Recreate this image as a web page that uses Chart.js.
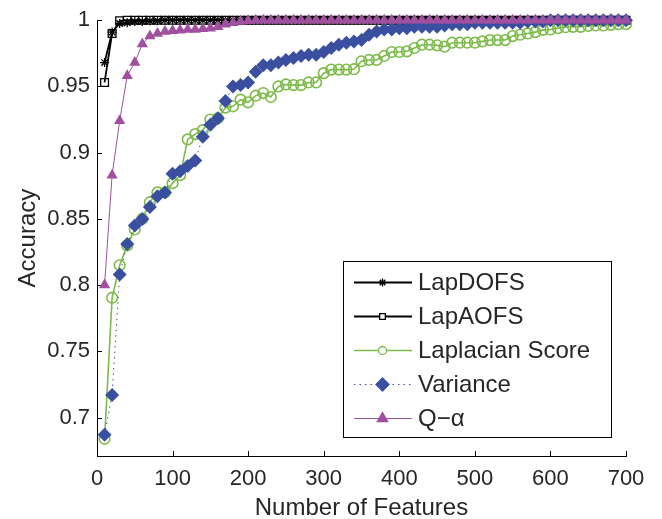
<!DOCTYPE html>
<html lang="en">
<head>
  <meta charset="UTF-8" />
  <title>Accuracy vs Number of Features</title>
  <script src="https://cdn.jsdelivr.net/npm/chart.js"></script>
  <style>
    body {
      margin: 0;
      background: #ffffff;
    }
    .chart-box {
      width: 662px;
      height: 519px;
    }
  </style>
</head>
<body>

  <div class="chart-box">
    <canvas id="accChart"></canvas>
  </div>

  <script>
    // number of selected features (x axis)
    const features = [10, 20, 30, 40, 50, 60, 70, 80, 90, 100,
      110, 120, 130, 140, 150, 160, 170, 180, 190, 200,
      210, 220, 230, 240, 250, 260, 270, 280, 290, 300,
      310, 320, 330, 340, 350, 360, 370, 380, 390, 400,
      410, 420, 430, 440, 450, 460, 470, 480, 490, 500,
      510, 520, 530, 540, 550, 560, 570, 580, 590, 600,
      610, 620, 630, 640, 650, 660, 670, 680, 690, 700];

    const lapDOFS = [0.968, 0.991, 0.9975, 0.998, 0.999, 0.999, 0.9995, 0.9995, 1, 1,
      1, 1, 1, 1, 1, 1, 1, 1, 1, 1,
      1, 1, 1, 1, 1, 1, 1, 1, 1, 1,
      1, 1, 1, 1, 1, 1, 1, 1, 1, 1,
      1, 1, 1, 1, 1, 1, 1, 1, 1, 1,
      1, 1, 1, 1, 1, 1, 1, 1, 1, 1,
      1, 1, 1, 1, 1, 1, 1, 1, 1, 1];

    const lapAOFS = [0.953, 0.990, 0.9995, 1, 1, 1, 1, 1, 1, 1,
      1, 1, 1, 1, 1, 1, 1, 1, 1, 1,
      1, 1, 1, 1, 1, 1, 1, 1, 1, 1,
      1, 1, 1, 1, 1, 1, 1, 1, 1, 1,
      1, 1, 1, 1, 1, 1, 1, 1, 1, 1,
      1, 1, 1, 1, 1, 1, 1, 1, 1, 1,
      1, 1, 1, 1, 1, 1, 1, 1, 1, 1];

    const laplacianScore = [0.684, 0.7905, 0.815, 0.830, 0.842, 0.850, 0.8626, 0.870, 0.870, 0.877,
      0.883, 0.910, 0.914, 0.917, 0.925, 0.926, 0.934, 0.935, 0.940, 0.938,
      0.943, 0.945, 0.942, 0.950, 0.9515, 0.951, 0.951, 0.953, 0.953, 0.960,
      0.9627, 0.9627, 0.9627, 0.963, 0.969, 0.970, 0.970, 0.973, 0.976, 0.976,
      0.9765, 0.979, 0.9815, 0.9815, 0.981, 0.980, 0.983, 0.983, 0.983, 0.983,
      0.984, 0.985, 0.985, 0.985, 0.988, 0.989, 0.990, 0.991, 0.9927, 0.993,
      0.994, 0.9947, 0.995, 0.995, 0.9957, 0.996, 0.996, 0.9965, 0.997, 0.997];

    const variance = [0.687, 0.717, 0.808, 0.831, 0.845, 0.850, 0.859, 0.867, 0.870, 0.884,
      0.886, 0.890, 0.894, 0.912, 0.921, 0.926, 0.939, 0.950, 0.951, 0.953,
      0.961, 0.966, 0.966, 0.968, 0.970, 0.9715, 0.973, 0.974, 0.974, 0.976,
      0.979, 0.9815, 0.983, 0.984, 0.985, 0.989, 0.9915, 0.993, 0.993, 0.994,
      0.994, 0.995, 0.995, 0.995, 0.995, 0.996, 0.997, 0.997, 0.997, 0.998,
      0.998, 0.998, 0.998, 0.998, 0.998, 0.998, 0.999, 0.999, 0.999, 1,
      1, 1, 1, 1, 1, 1, 1, 1, 1, 1];

    const qAlpha = [0.800, 0.883, 0.924, 0.958, 0.968, 0.982, 0.988, 0.990, 0.9915, 0.992,
      0.9925, 0.993, 0.993, 0.9935, 0.994, 0.995, 0.997, 0.998, 0.999, 0.9995,
      1, 1, 1, 1, 1, 1, 1, 1, 1, 1,
      1, 1, 1, 1, 1, 1, 1, 1, 1, 1,
      1, 1, 1, 1, 1, 1, 1, 1, 1, 1,
      1, 1, 1, 1, 1, 1, 1, 1, 1, 1,
      1, 1, 1, 1, 1, 1, 1, 1, 1, 1];

    const xTicks = [0, 100, 200, 300, 400, 500, 600, 700];
    const yTicks = [0.7, 0.75, 0.8, 0.85, 0.9, 0.95, 1];

    const FONT = "'Liberation Sans', Arial, Helvetica, sans-serif";
    const TEXT = '#262626';

    function pts(ys) {
      return features.map((x, i) => ({ x: x, y: ys[i] }));
    }

    // legend marker info (smaller than plot markers, like MATLAB)
    const legendRows = [
      { label: 'LapDOFS', color: '#000000', width: 1.8, dash: [], style: 'star', r: 4, fill: '#000000' },
      { label: 'LapAOFS', color: '#000000', width: 1.8, dash: [], style: 'rect', r: 4, fill: '#ffffff' },
      { label: 'Laplacian Score', color: '#7dbb4a', width: 1.6, dash: [], style: 'circle', r: 4, fill: '#ffffff' },
      { label: 'Variance', color: '#3a4fa0', width: 1, dash: [1.5, 4], style: 'rectRot', r: 6.5, fill: '#3a4fa0' },
      { label: 'Q\u2212\u03b1', color: '#a0509f', width: 1, dash: [], style: 'triangle', r: 6, fill: '#a0509f' }
    ];

    // ticks pointing into the plot, like MATLAB
    const inwardTicks = {
      id: 'inwardTicks',
      beforeDatasetsDraw(chart) {
        const ctx = chart.ctx;
        const xs = chart.scales.x, ys = chart.scales.y;
        const a = chart.chartArea;
        ctx.save();
        ctx.strokeStyle = '#000';
        ctx.lineWidth = 1;
        ctx.beginPath();
        xTicks.forEach(v => {
          const px = Math.round(xs.getPixelForValue(v)) + 0.5;
          ctx.moveTo(px, a.bottom);
          ctx.lineTo(px, a.bottom - 5);
        });
        yTicks.forEach(v => {
          const py = Math.round(ys.getPixelForValue(v)) + 0.5;
          ctx.moveTo(a.left, py);
          ctx.lineTo(a.left + 5, py);
        });
        ctx.stroke();
        ctx.restore();
      }
    };

    const boxLegend = {
      id: 'boxLegend',
      afterDraw(chart) {
        const ctx = chart.ctx;
        const left = 343.5, top = 261.5, w = 268, h = 176;
        ctx.save();
        ctx.fillStyle = '#fff';
        ctx.fillRect(left, top, w, h);
        ctx.strokeStyle = '#000';
        ctx.lineWidth = 1;
        ctx.strokeRect(left, top, w, h);
        legendRows.forEach((row, i) => {
          const y = 282.5 + i * 34;
          ctx.strokeStyle = row.color;
          ctx.lineWidth = row.width;
          ctx.setLineDash(row.dash);
          ctx.beginPath();
          ctx.moveTo(354, y);
          ctx.lineTo(412, y);
          ctx.stroke();
          ctx.setLineDash([]);
          ctx.fillStyle = row.fill;
          ctx.strokeStyle = row.color;
          ctx.lineWidth = 1.3;
          Chart.helpers.drawPoint(ctx, { pointStyle: row.style, radius: row.r, rotation: 0, borderWidth: 1.3 }, 382.5, y);
          ctx.fillStyle = TEXT;
          ctx.font = '24px ' + FONT;
          ctx.textBaseline = 'middle';
          ctx.textAlign = 'left';
          ctx.fillText(row.label, 418, y + 1);
        });
        ctx.restore();
      }
    };

    const ctx = document.getElementById('accChart').getContext('2d');
    new Chart(ctx, {
      type: 'line',
      data: {
        datasets: [
          {
            label: 'LapDOFS',
            data: pts(lapDOFS),
            borderColor: '#000000',
            borderWidth: 1.8,
            pointStyle: 'star',
            pointRadius: 4.5,
            pointBorderColor: '#000000',
            pointBorderWidth: 1.3,
            order: 4
          },
          {
            label: 'LapAOFS',
            data: pts(lapAOFS),
            borderColor: '#000000',
            borderWidth: 1.8,
            pointStyle: 'rect',
            pointRadius: 5.5,
            pointBackgroundColor: 'rgba(255,255,255,0)',
            pointBorderColor: '#000000',
            pointBorderWidth: 1.3,
            order: 3
          },
          {
            label: 'Laplacian Score',
            data: pts(laplacianScore),
            borderColor: '#7dbb4a',
            borderWidth: 1.6,
            pointStyle: 'circle',
            pointRadius: 5.3,
            pointBackgroundColor: 'rgba(255,255,255,0)',
            pointBorderColor: '#7dbb4a',
            pointBorderWidth: 1.6,
            order: 2
          },
          {
            label: 'Variance',
            data: pts(variance),
            borderColor: '#3a4fa0',
            borderWidth: 1,
            borderDash: [1.5, 4],
            pointStyle: 'rectRot',
            pointRadius: 7,
            pointBackgroundColor: '#3a4fa0',
            pointBorderColor: '#3a4fa0',
            pointBorderWidth: 0,
            order: 1
          },
          {
            label: 'Q\u2212\u03b1',
            data: pts(qAlpha),
            borderColor: '#a0509f',
            borderWidth: 1,
            pointStyle: 'triangle',
            pointRadius: 6.5,
            pointBackgroundColor: '#a0509f',
            pointBorderColor: '#a0509f',
            pointBorderWidth: 0,
            order: 0
          }
        ]
      },
      options: {
        responsive: true,
        maintainAspectRatio: false,
        animation: false,
        datasets: {
          line: { clip: false, tension: 0, fill: false, pointHoverRadius: 0 }
        },
        layout: { padding: { left: 0, top: 17, right: 36, bottom: 0 } },
        plugins: {
          legend: { display: false },
          tooltip: { enabled: false }
        },
        scales: {
          x: {
            type: 'linear',
            min: 0,
            max: 700,
            afterFit(scale) { scale.height = 63; },
            afterBuildTicks(scale) { scale.ticks = xTicks.map(v => ({ value: v })); },
            grid: { display: false, drawTicks: false },
            border: { display: true, color: '#000', width: 1 },
            ticks: {
              color: TEXT,
              padding: 10,
              maxRotation: 0,
              font: { family: FONT, size: 22 }
            },
            title: {
              display: true,
              text: 'Number of Features',
              color: TEXT,
              font: { family: FONT, size: 24, lineHeight: 0.85 },
              padding: 0
            }
          },
          y: {
            type: 'linear',
            min: 0.671,
            max: 1,
            afterFit(scale) { scale.width = 97; },
            afterBuildTicks(scale) { scale.ticks = yTicks.map(v => ({ value: v })); },
            grid: { display: false, drawTicks: false },
            border: { display: true, color: '#000', width: 1 },
            ticks: {
              color: TEXT,
              padding: 7,
              font: { family: FONT, size: 22 },
              callback: v => String(Number(v.toFixed(2)))
            },
            title: {
              display: true,
              text: 'Accuracy',
              color: TEXT,
              font: { family: FONT, size: 24, lineHeight: 1 },
              padding: { top: 16, bottom: 0 }
            }
          }
        }
      },
      plugins: [inwardTicks, boxLegend]
    });
  </script>
</body>
</html>
